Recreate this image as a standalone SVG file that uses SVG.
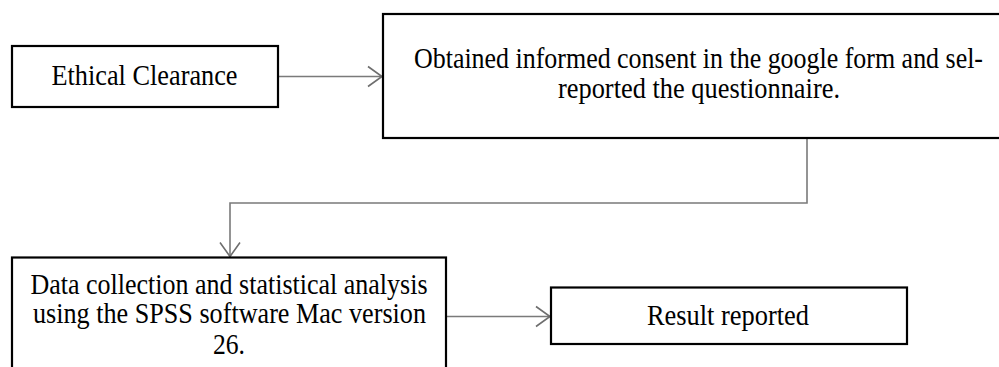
<svg xmlns="http://www.w3.org/2000/svg" width="999" height="367" viewBox="0 0 999 367">
<style>
.box{fill:#fff;stroke:#000;stroke-width:2.2}
.t{font-family:"Liberation Serif","Times New Roman",serif;font-size:29px;fill:#000;text-anchor:middle}
.c{fill:none;stroke:#7a7a7a;stroke-width:1.6}
</style>
<defs>
<marker id="arr" markerUnits="userSpaceOnUse" markerWidth="20" markerHeight="24" viewBox="-16 -12 20 24" refX="0" refY="0" orient="auto">
<path d="M-14,-10 L0,0 L-14,10" fill="none" stroke="#6e6e6e" stroke-width="1.6"/>
</marker>
</defs>
<rect width="999" height="367" fill="#fff"/>
<g id="connectors">
<line class="c" x1="278" y1="76.5" x2="382" y2="76.5" marker-end="url(#arr)"/>
<polyline class="c" points="807,138 807,203 230,203 230,256.5" marker-end="url(#arr)"/>
<line class="c" x1="446" y1="316.5" x2="550" y2="316.5" marker-end="url(#arr)"/>
</g>
<g id="n1">
<rect class="box" x="12" y="46" width="266" height="61"/>
<text class="t" x="144.5" y="85" textLength="186" lengthAdjust="spacingAndGlyphs">Ethical Clearance</text>
</g>
<g id="n2">
<rect class="box" x="383" y="14" width="632" height="124"/>
<text class="t" x="698.5" y="68" textLength="569" lengthAdjust="spacingAndGlyphs">Obtained informed consent in the google form and sel-</text>
<text class="t" x="699" y="98" textLength="282" lengthAdjust="spacingAndGlyphs">reported the questionnaire.</text>
</g>
<g id="n3">
<rect class="box" x="12" y="257.5" width="434" height="130"/>
<text class="t" x="229" y="294" textLength="397" lengthAdjust="spacingAndGlyphs">Data collection and statistical analysis</text>
<text class="t" x="229.5" y="323" textLength="393" lengthAdjust="spacingAndGlyphs">using the SPSS software Mac version</text>
<text class="t" x="229" y="354" textLength="32" lengthAdjust="spacingAndGlyphs">26.</text>
</g>
<g id="n4">
<rect class="box" x="551" y="287.5" width="356" height="56.5"/>
<text class="t" x="728" y="325" textLength="162" lengthAdjust="spacingAndGlyphs">Result reported</text>
</g>
</svg>
